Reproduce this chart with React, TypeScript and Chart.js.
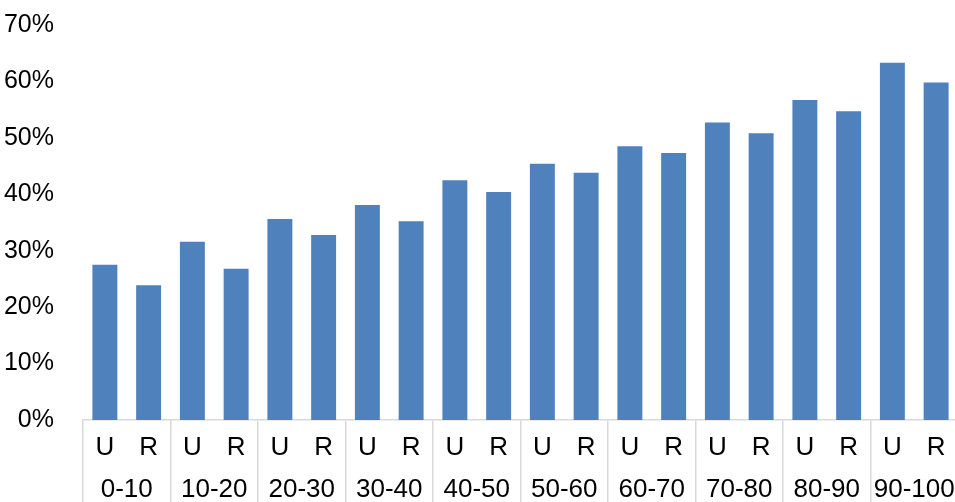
import React, { useEffect, useRef } from "react";
import { Chart, registerables } from "chart.js";

Chart.register(...registerables);

const groups = ["0-10", "10-20", "20-30", "30-40", "40-50", "50-60", "60-70", "70-80", "80-90", "90-100"];
const subLabels = ["U", "R", "U", "R", "U", "R", "U", "R", "U", "R", "U", "R", "U", "R", "U", "R", "U", "R", "U", "R"];
const values = [27.5, 23.9, 31.6, 26.8, 35.6, 32.8, 38.1, 35.2, 42.5, 40.4, 45.4, 43.8, 48.5, 47.3, 52.7, 50.8, 56.7, 54.7, 63.3, 59.8];
const yTicks = [0, 10, 20, 30, 40, 50, 60, 70];

const FONT = "'Liberation Sans', Arial, Helvetica, sans-serif";

export default function App() {
  const ref = useRef<HTMLCanvasElement | null>(null);

  useEffect(() => {
    if (!ref.current) return;
    const noSidePad = (scale: any) => {
      scale.paddingLeft = 0;
      scale.paddingRight = 0;
    };
    const chart = new Chart(ref.current, {
      type: "bar",
      data: {
        labels: subLabels,
        datasets: [
          {
            data: values,
            backgroundColor: "#4f81bd",
            borderWidth: 0,
            barPercentage: 0.57,
            categoryPercentage: 1.0,
          },
        ],
      },
      options: {
        animation: false,
        responsive: true,
        maintainAspectRatio: false,
        layout: { padding: { top: 25, left: 0, right: 0, bottom: 0 } },
        plugins: { legend: { display: false }, tooltip: { enabled: false } },
        scales: {
          y: {
            min: 0,
            max: 70,
            afterBuildTicks: (scale: any) => {
              scale.ticks = yTicks.map((v) => ({ value: v }));
            },
            afterFit: (scale: any) => {
              scale.width = 83;
              scale.paddingTop = 0;
              scale.paddingBottom = 0;
            },
            grid: { display: false },
            border: { display: false },
            ticks: {
              padding: 21,
              color: "#000",
              font: { family: FONT, size: 25 },
              callback: (v: any) => v + "%",
            },
          },
          x: {
            type: "category",
            position: "bottom",
            offset: true,
            afterFit: (scale: any) => {
              scale.height = 36;
              noSidePad(scale);
            },
            grid: {
              display: true,
              offset: true,
              drawOnChartArea: false,
              drawTicks: true,
              tickLength: 82,
              lineWidth: 1.5,
              color: (ctx: any) => (ctx.index % 2 === 0 ? "#d9d9d9" : "rgba(0,0,0,0)"),
            },
            border: { display: true, color: "#d9d9d9", width: 1.5 },
            ticks: {
              padding: -70,
              color: "#000",
              maxRotation: 0,
              autoSkip: false,
              font: { family: FONT, size: 26 },
            },
          },
          x2: {
            type: "category",
            position: "bottom",
            labels: groups,
            offset: true,
            afterFit: (scale: any) => {
              scale.height = 46;
              noSidePad(scale);
            },
            grid: { display: false, drawTicks: false, offset: true },
            border: { display: false },
            ticks: {
              padding: 18,
              color: "#000",
              maxRotation: 0,
              autoSkip: false,
              font: { family: FONT, size: 26 },
            },
          },
        },
      },
    });
    return () => chart.destroy();
  }, []);

  return (
    <div style={{ position: "absolute", left: 0, top: 0, width: 955, height: 502, overflow: "hidden", background: "#fff" }}>
      <div style={{ position: "relative", width: 958, height: 502 }}>
        <canvas ref={ref} />
      </div>
    </div>
  );
}
